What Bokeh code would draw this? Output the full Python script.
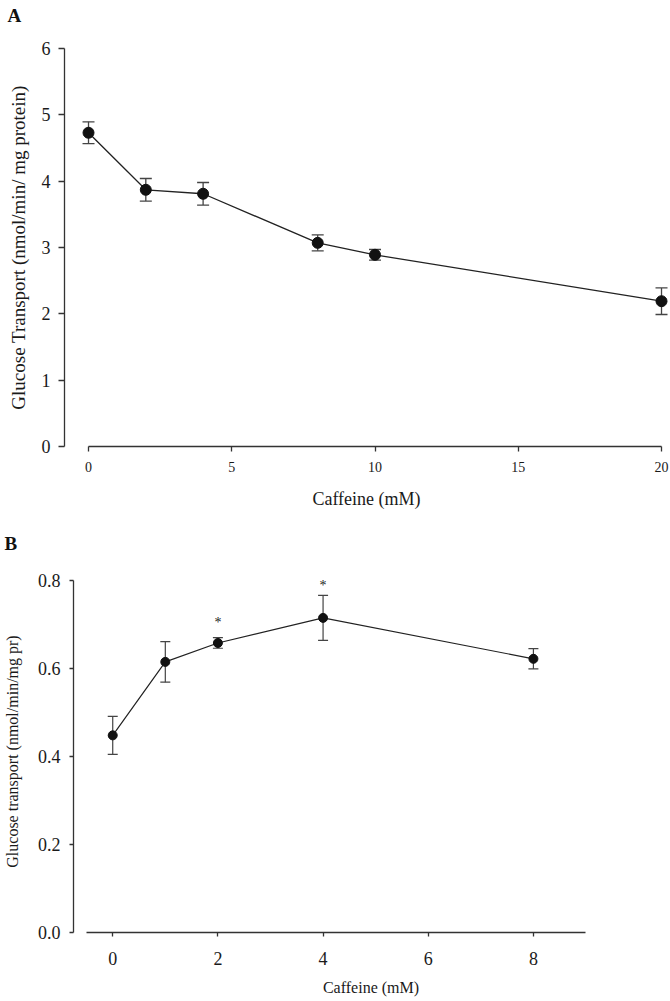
from bokeh.plotting import figure
from bokeh.models import Range1d, FixedTicker, Whisker, TeeHead, ColumnDataSource, NumeralTickFormatter
from bokeh.embed import file_html
from bokeh.resources import INLINE
from bokeh.core.properties import value

# ---------------- data ----------------
# Panel A
a_caffeine = [0, 2, 4, 8, 10, 20]
a_transport = [4.73, 3.87, 3.81, 3.07, 2.89, 2.19]
a_sem = [0.165, 0.17, 0.17, 0.12, 0.08, 0.20]
a_xticks = [0, 5, 10, 15, 20]
a_yticks = [0, 1, 2, 3, 4, 5, 6]
a_xlabel = "Caffeine (mM)"
a_ylabel = "Glucose Transport (nmol/min/ mg protein)"

# Panel B
b_caffeine = [0, 1, 2, 4, 8]
b_transport = [0.448, 0.615, 0.658, 0.715, 0.622]
b_sem = [0.043, 0.046, 0.012, 0.051, 0.023]
b_xticks = [0, 2, 4, 6, 8]
b_yticks = [0.0, 0.2, 0.4, 0.6, 0.8]
b_sig_x = [2, 4]
b_sig_y = [0.705, 0.789]
b_sig_text = ["*", "*"]
b_xlabel = "Caffeine (mM)"
b_ylabel = "Glucose transport (nmol/min/mg pr)"

panel_letters = ["A", "B"]

FONT = "Liberation Serif"
AX = "#333333"
TXT = "#1a1a1a"
W = 670


def style_axes(p, xt, yt, xb, yb):
    p.xgrid.visible = False
    p.ygrid.visible = False
    p.outline_line_color = None
    p.background_fill_color = "white"
    p.border_fill_color = "white"
    p.xaxis.ticker = FixedTicker(ticks=xt)
    p.yaxis.ticker = FixedTicker(ticks=yt)
    p.xaxis.bounds = xb
    p.yaxis.bounds = yb
    for ax in (p.xaxis, p.yaxis):
        ax.axis_line_color = AX
        ax.axis_line_width = 1.3
        ax.major_tick_line_color = AX
        ax.major_tick_line_width = 1.3
        ax.major_tick_in = 0
        ax.minor_tick_line_color = None
        ax.major_label_text_font = FONT
        ax.major_label_text_color = TXT
        ax.axis_label_text_font = FONT
        ax.axis_label_text_font_style = "normal"
        ax.axis_label_text_color = TXT


def header(letter, h, tx, ty):
    """A thin strip carrying the panel letter (pixel-like data space)."""
    p = figure(width=W, height=h, x_range=Range1d(0, W), y_range=Range1d(0, h),
               output_backend="svg", toolbar_location=None, title_location=None,
               x_axis_location=None, y_axis_location=None, min_border=0)
    p.xgrid.visible = False
    p.ygrid.visible = False
    p.outline_line_color = None
    p.text(x=[tx], y=[ty], text=[letter], text_font=value(FONT), text_font_style="bold",
           text_font_size="19px", text_color="#111111", text_align="left",
           text_baseline="alphabetic")
    return p


# ---------------- panel A ----------------
ha = header(panel_letters[0], 26, 7, 11.5)

pa = figure(width=W, height=494, x_range=Range1d(-0.838, 20.244), y_range=Range1d(0, 6),
            output_backend="svg", toolbar_location=None, title_location=None,
            min_border_left=64, min_border_right=2, min_border_top=22, min_border_bottom=74)
style_axes(pa, a_xticks, a_yticks, (0, 20), (0, 6))
pa.xaxis.major_tick_out = 5
pa.yaxis.major_tick_out = 6
pa.xaxis.major_label_text_font_size = "14px"
pa.yaxis.major_label_text_font_size = "18px"
pa.xaxis.major_label_standoff = 10
pa.yaxis.major_label_standoff = 8
pa.xaxis.axis_label = a_xlabel
pa.yaxis.axis_label = a_ylabel
pa.xaxis.axis_label_text_font_size = "18px"
pa.yaxis.axis_label_text_font_size = "19px"
pa.xaxis.axis_label_standoff = 14
pa.yaxis.axis_label_standoff = 10

srcA = ColumnDataSource(dict(
    x=a_caffeine, y=a_transport,
    upper=[v + e for v, e in zip(a_transport, a_sem)],
    lower=[v - e for v, e in zip(a_transport, a_sem)],
))
pa.add_layout(Whisker(source=srcA, base="x", upper="upper", lower="lower",
                      line_color="#444444", line_width=1.3,
                      upper_head=TeeHead(size=12, line_color="#444444", line_width=1.3),
                      lower_head=TeeHead(size=12, line_color="#444444", line_width=1.3)))
pa.line("x", "y", source=srcA, line_color="#222222", line_width=1.3)
pa.scatter("x", "y", source=srcA, size=11, marker="circle",
           fill_color="#111111", line_color="#111111")

# ---------------- panel B ----------------
hb = header(panel_letters[1], 36, 4, 13.5)

pb = figure(width=W, height=445, x_range=Range1d(-0.746, 10.569), y_range=Range1d(0, 0.8227),
            output_backend="svg", toolbar_location=None, title_location=None,
            min_border_left=69, min_border_right=2, min_border_top=14, min_border_bottom=69)
style_axes(pb, b_xticks, b_yticks, (-0.5, 9), (0, 0.8))
pb.yaxis.formatter = NumeralTickFormatter(format="0.0")
pb.xaxis.major_tick_out = 4
pb.yaxis.major_tick_out = 4
pb.xaxis.major_label_text_font_size = "18px"
pb.yaxis.major_label_text_font_size = "18px"
pb.xaxis.major_label_standoff = 15
pb.yaxis.major_label_standoff = 9
pb.xaxis.axis_label = b_xlabel
pb.yaxis.axis_label = b_ylabel
pb.xaxis.axis_label_text_font_size = "16px"
pb.yaxis.axis_label_text_font_size = "16px"
pb.xaxis.axis_label_standoff = 11
pb.yaxis.axis_label_standoff = 14

srcB = ColumnDataSource(dict(
    x=b_caffeine, y=b_transport,
    upper=[v + e for v, e in zip(b_transport, b_sem)],
    lower=[v - e for v, e in zip(b_transport, b_sem)],
))
pb.add_layout(Whisker(source=srcB, base="x", upper="upper", lower="lower",
                      line_color="#444444", line_width=1.2,
                      upper_head=TeeHead(size=10, line_color="#444444", line_width=1.2),
                      lower_head=TeeHead(size=10, line_color="#444444", line_width=1.2)))
pb.line("x", "y", source=srcB, line_color="#222222", line_width=1.2)
pb.scatter("x", "y", source=srcB, size=9, marker="circle",
           fill_color="#111111", line_color="#111111")
pb.text(x=b_sig_x, y=b_sig_y, text=b_sig_text, text_font=value(FONT),
        text_font_size="14px", text_color="#222222", text_align="center",
        text_baseline="alphabetic")

open("out.html", "w").write(file_html([ha, pa, hb, pb], INLINE))
